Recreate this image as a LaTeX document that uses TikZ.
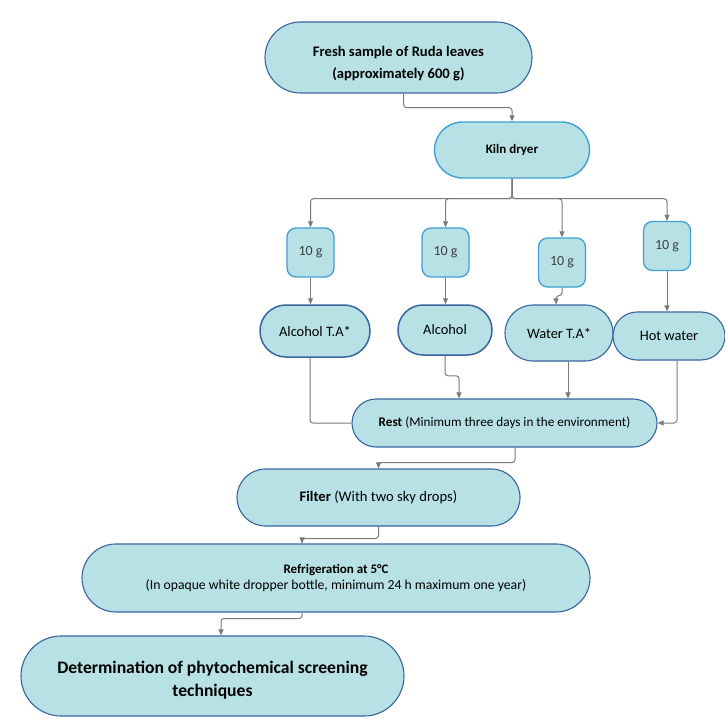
\documentclass[tikz,border=0pt]{standalone}
\usepackage{fontspec}
\setmainfont{Carlito}
\usetikzlibrary{shapes.misc,arrows.meta,calc}
\definecolor{boxfill}{RGB}{183,225,229}
\definecolor{darkedge}{RGB}{56,100,160}
\definecolor{lightedge}{RGB}{66,158,214}
\definecolor{conncol}{RGB}{122,122,122}
\tikzset{
  pill/.style={rounded rectangle, draw=darkedge, fill=boxfill, line width=1.1pt, inner sep=0pt, align=center},
  kilnbox/.style={pill, draw=lightedge, line width=1.4pt},
  gbox/.style={rectangle, rounded corners=9pt, draw=lightedge, fill=boxfill, line width=1.3pt, inner sep=0pt, minimum width=47pt, minimum height=49pt, font=\fontsize{14}{16}\selectfont\color{black!75}},
  conn/.style={draw=conncol, line width=1pt, rounded corners=3pt},
  arr/.style={conn, -{Triangle[length=6pt,width=5pt]}},
}
\begin{document}
\begin{tikzpicture}[x=1pt,y=-1pt]
\useasboundingbox[fill=white] (0,0) rectangle (725,719);
\node[pill, minimum width=267pt, minimum height=71pt, font=\fontsize{14.6}{22}\selectfont\bfseries] (fresh) at (398.5,57.5) {\rule{0pt}{22pt}Fresh sample of Ruda leaves\\(approximately 600 g)};
\node[kilnbox, minimum width=155pt, minimum height=56pt, font=\fontsize{13}{15}\selectfont\bfseries] (kiln) at (512,150) {Kiln dryer};
\node[gbox] (g1) at (310.5,252.5) {10 g};
\node[gbox] (g2) at (445.5,252.5) {10 g};
\node[gbox] (g3) at (562,262.5) {10 g};
\node[gbox] (g4) at (667,246) {10 g};
\node[pill, minimum width=110pt, minimum height=52pt, line width=1.5pt, font=\fontsize{14.4}{16}\selectfont] (at) at (315,331) {Alcohol T.A*};
\node[pill, minimum width=94pt, minimum height=50pt, line width=1.5pt, font=\fontsize{14.4}{16}\selectfont] (al) at (445,330) {Alcohol};
\node[pill, minimum width=108pt, minimum height=56pt, font=\fontsize{14.4}{16}\selectfont] (wt) at (559,333) {Water T.A*};
\node[pill, minimum width=112pt, minimum height=48pt, font=\fontsize{14.4}{16}\selectfont] (hw) at (669,336) {Hot water};
\node[pill, minimum width=305pt, minimum height=48pt, font=\fontsize{13.2}{15}\selectfont] (rest) at (504.5,423) {\textbf{Rest} (Minimum three days in the environment)};
\node[pill, minimum width=283pt, minimum height=57pt, font=\fontsize{14.6}{16}\selectfont] (filter) at (378.5,497.5) {\textbf{Filter} (With two sky drops)};
\node[pill, minimum width=508pt, minimum height=68pt, font=\fontsize{13.7}{16}\selectfont] (refr) at (336,578) {{\fontsize{13}{16}\selectfont\bfseries Refrigeration at 5°C}\\(In opaque white dropper bottle, minimum 24 h maximum one year)};
\node[pill, minimum width=383pt, minimum height=80pt, font=\fontsize{17.6}{23}\selectfont\bfseries] (det) at (212.5,676) {\rule{0pt}{21pt}Determination of phytochemical screening\\techniques};
% connectors
\draw[arr] ([xshift=5pt]fresh.south) -- ++(0,14) -| (kiln.north);
\draw[arr] (kiln.south) -- ++(0,20) -| (g1.north);
\draw[arr] (kiln.south) -- ++(0,20) -| (g2.north);
\draw[arr] (kiln.south) -- ++(0,20) -| (g3.north);
\draw[arr] (kiln.south) -- ++(0,20) -| (g4.north);
\draw[arr] (g1.south) -- (g1.south |- at.north);
\draw[arr] (g2.south) -- (g2.south |- al.north);
\draw[arr] (g3.south) -- ++(0,8) -| ([xshift=-3pt]wt.north);
\draw[arr] (g4.south) -- (g4.south |- hw.north);
\draw[conn] ([xshift=-5pt]at.south) |- (rest.west);
\draw[arr] (al.south) -- ++(0,20) -| ([xshift=-45.5pt]rest.north);
\draw[arr] ([xshift=9pt]wt.south) -- ([xshift=9pt]wt.south |- rest.north);
\draw[arr] ([xshift=8pt]hw.south) |- (rest.east);
\draw[arr] ([xshift=10.5pt]rest.south) -- ++(0,15) -| (filter.north);
\draw[arr] (filter.south) -- ++(0,12) -| ([xshift=-34pt]refr.north);
\draw[arr] ([xshift=-34pt]refr.south) -- ++(0,6) -| ([xshift=8.5pt]det.north);
\end{tikzpicture}
\end{document}
